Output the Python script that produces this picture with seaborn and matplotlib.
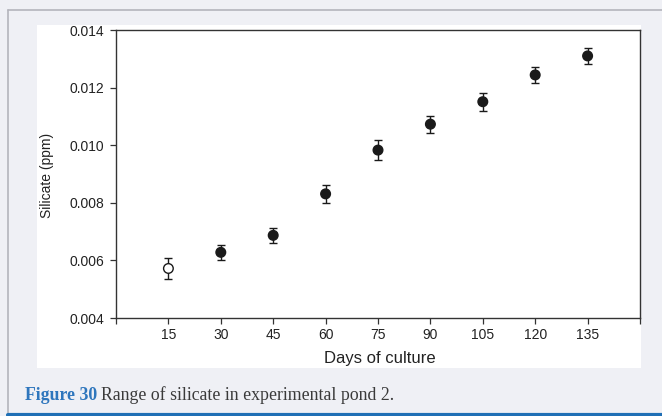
import matplotlib
matplotlib.use("Agg")
import matplotlib.pyplot as plt
import seaborn as sns
import pandas as pd
from matplotlib.patches import Rectangle
from matplotlib.lines import Line2D

days = [15, 30, 45, 60, 75, 90, 105, 120, 135]
silicate = [0.00572, 0.00628, 0.00687, 0.00831, 0.00983, 0.01073, 0.01151, 0.01244, 0.01310]
errors = [0.00036, 0.00026, 0.00027, 0.00030, 0.00035, 0.00030, 0.00031, 0.00029, 0.00029]
group = ["open", "filled", "filled", "filled", "filled", "filled", "filled", "filled", "filled"]
xtick_vals = [0, 15, 30, 45, 60, 75, 90, 105, 120, 135, 150]
xtick_labels = ["", "15", "30", "45", "60", "75", "90", "105", "120", "135", ""]
ytick_vals = [0.004, 0.006, 0.008, 0.010, 0.012, 0.014]
ytick_labels = ["0.004", "0.006", "0.008", "0.010", "0.012", "0.014"]

df = pd.DataFrame({"days": days, "silicate": silicate, "err": errors, "group": group})

sns.set_style("white")
plt.rcParams["font.family"] = ["Liberation Sans", "DejaVu Sans"]

W, H = 662, 416
fig = plt.figure(figsize=(W / 100, H / 100), dpi=100)
bg = "#eff0f5"
fig.patch.set_facecolor(bg)

def fx(px):
    return px / W

def fy(py):
    return 1 - py / H

# outer border lines (left and top)
fig.add_artist(Line2D([fx(8), fx(8)], [fy(10), 0], transform=fig.transFigure, color="#b4b4bc", lw=1.2))
fig.add_artist(Line2D([fx(8), 1], [fy(10), fy(10)], transform=fig.transFigure, color="#b4b4bc", lw=1.2))
# white panel
fig.add_artist(Rectangle((fx(37), fy(368)), fx(641) - fx(37), fy(25) - fy(368),
                         transform=fig.transFigure, facecolor="white", edgecolor="none", zorder=0))
# bottom blue line
fig.add_artist(Line2D([fx(8), 1], [fy(414.5), fy(414.5)], transform=fig.transFigure, color="#1f6fb5", lw=3))

ax = fig.add_axes([fx(116), fy(318), fx(640) - fx(116), fy(30) - fy(318)])
ax.set_facecolor("white")

ax.errorbar(df["days"], df["silicate"], yerr=df["err"], fmt="none", ecolor="#1a1a1a",
            elinewidth=1.0, capsize=3.2, capthick=1.0, zorder=2)
sns.scatterplot(data=df, x="days", y="silicate", hue="group",
                palette={"open": "white", "filled": "#1a1a1a"},
                edgecolor="#1a1a1a", linewidth=1.0, s=48, legend=False, ax=ax, zorder=3)

ax.set_xlim(0, 150)
ax.set_ylim(0.004, 0.014)
ax.set_xticks(xtick_vals)
ax.set_xticklabels(xtick_labels)
ax.set_yticks(ytick_vals)
ax.set_yticklabels(ytick_labels)
ax.tick_params(axis="both", direction="out", length=4, width=0.9, color="#333333",
               labelsize=10, labelcolor="#222222", bottom=True, left=True, top=False, right=False)
ax.tick_params(axis="y", pad=4.5)
ax.tick_params(axis="x", pad=3.5)
for s in ax.spines.values():
    s.set_visible(True)
    s.set_color("#333333")
    s.set_linewidth(1.0)
ax.set_xlabel("")
ax.set_ylabel("")

fig.text(fx(380), fy(359), "Days of culture", ha="center", va="center", fontsize=12, color="#222222")
fig.text(fx(47), fy(175), "Silicate (ppm)", ha="center", va="center", rotation=90, fontsize=10, color="#222222")

# caption
t1 = fig.text(fx(25), fy(395), "Figure 30", ha="left", va="center", fontsize=12.8,
              fontweight="bold", color="#2e76bd", family="Liberation Serif")
fig.canvas.draw()
bb = t1.get_window_extent()
x2 = bb.x1 / W + fx(4)
fig.text(x2, fy(395), "Range of silicate in experimental pond 2.", ha="left", va="center",
         fontsize=12.8, color="#3a3a3a", family="Liberation Serif")

fig.savefig("out.png", dpi=100, facecolor=bg)
